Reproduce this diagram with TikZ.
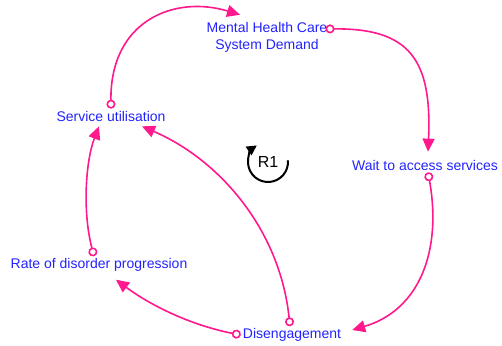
\documentclass[tikz,border=0pt]{standalone}
\usepackage{fontspec}
\setmainfont{Liberation Sans}
\usetikzlibrary{arrows.meta}

\definecolor{linkpink}{RGB}{255,25,140}
\definecolor{varblue}{RGB}{35,35,255}

\begin{document}
\begin{tikzpicture}[x=1pt,y=1pt,
    var/.style={text=varblue,font=\fontsize{14}{17}\selectfont,inner sep=2pt,align=center},
    link/.style={draw=linkpink,line width=1.6pt,
        {Circle[open,fill=white,length=9pt,width=9pt]}-{Triangle[length=13pt,width=12pt]}}]
    \useasboundingbox(0,0)rectangle(502,-345);

    % variables
    \node[var](mhcsd)at(267,-37){Mental Health Care\\System Demand};
    \node[var](wait)at(425,-165){Wait to access services};
    \node[var](su)at(111,-116){Service utilisation};
    \node[var](rate)at(99,-265){Rate of disorder progression};
    \node[var](dis)at(292,-335){Disengagement};

    % loop marker
    \node[font=\fontsize{16}{18}\selectfont](r1)at(268,-162){R1};
    \draw[line width=2pt,-{Triangle[length=10pt,width=10pt]}]([shift={(5:20)}]r1.center)
        arc[start angle=5,end angle=-236,radius=20];

    % links
    \draw[link](su.north)..controls(110,-20)and(175,5)..([xshift=-27,yshift=5]mhcsd.north);
    \draw[link]([xshift=-4,yshift=8]mhcsd.east)..controls(410,-28)and(432,-60)..([xshift=3,yshift=6]wait.north);
    \draw[link]([xshift=3]wait.south)..controls(442,-250)and(420,-310)..([xshift=9,yshift=5]dis.east);
    \draw[link](dis.west)..controls(190,-325)and(150,-305)..([xshift=17,yshift=-6]rate.south);
    \draw[link]([xshift=-2]dis.north)..controls(280,-230)and(220,-160)..([xshift=31,yshift=-3]su.south);
    \draw[link]([xshift=-5]rate.north)..controls(82,-210)and(86,-160)..([xshift=-12,yshift=-3]su.south);
\end{tikzpicture}
\end{document}
